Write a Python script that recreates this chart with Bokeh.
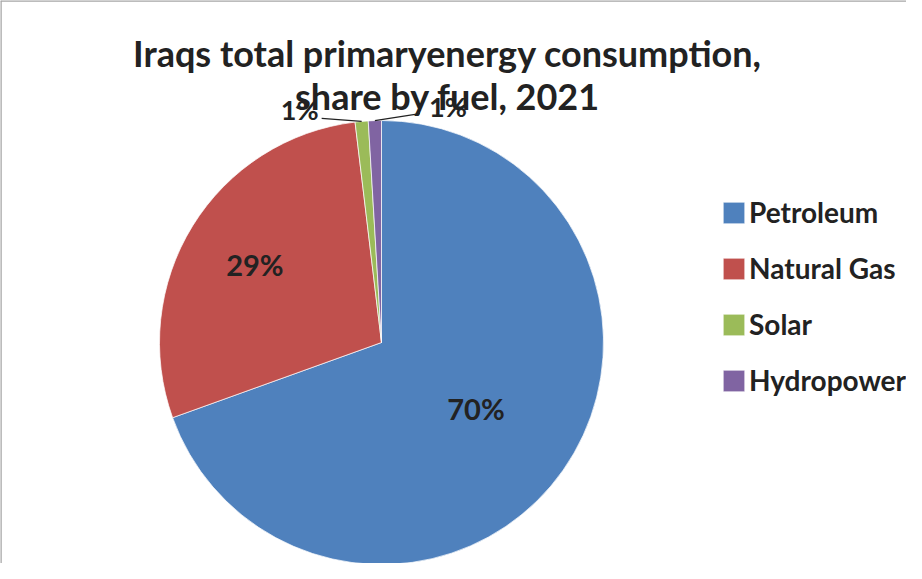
import math
from bokeh.plotting import figure
from bokeh.models import ColumnDataSource, Span, Legend, LegendItem, Range1d
from bokeh.core.properties import value
from bokeh.embed import file_html
from bokeh.resources import INLINE

# ---- data ----
fuels = ["Petroleum", "Natural Gas", "Solar", "Hydropower"]
shares = [69.5, 28.6, 0.95, 0.95]
colors = ["#4F81BD", "#C0504D", "#9BBB59", "#8064A2"]
title_lines = ["Iraqs total primaryenergy consumption,", "share by fuel, 2021"]

# ---- layout (pixels, figure is 906 x 563, 1 data unit = 1 px) ----
W, H = 906, 563
CX, CY, R = 381, 221, 222
FONT = "Lato"
TXT = "#222222"

p = figure(width=W, height=H, output_backend="svg", toolbar_location=None,
           x_range=Range1d(0, W), y_range=Range1d(0, H), min_border=0,
           tools="")
p.axis.visible = False
p.grid.visible = False
p.outline_line_color = None
p.background_fill_color = "white"

# border (left and top only visible in reference)
p.add_layout(Span(location=0, dimension="height", line_color="#A6A6A6", line_width=2.5))
p.add_layout(Span(location=H, dimension="width", line_color="#A6A6A6", line_width=2.5))

# wedge angles: clockwise from 12 o'clock
total = sum(shares)
starts, ends, mids = [], [], []
acc = 0.0
for s in shares:
    a0 = acc / total * 2 * math.pi
    acc += s
    a1 = acc / total * 2 * math.pi
    starts.append(math.pi / 2 - a0)
    ends.append(math.pi / 2 - a1)
    mids.append((a0 + a1) / 2)

src = ColumnDataSource(dict(x=[CX] * len(fuels), y=[CY] * len(fuels),
                            start=starts, end=ends, color=colors, fuel=fuels))
wr = p.wedge(x="x", y="y", radius=R, start_angle="start", end_angle="end",
             direction="clock", fill_color="color", line_color="white",
             line_width=1, line_alpha=0.7, source=src)

labels = [f"{round(s / total * 100)}%" for s in shares]

# inside labels for large slices
inner_frac = [0.52, 0.67]
lx, ly, lt = [], [], []
for i in range(2):
    lx.append(CX + inner_frac[i] * R * math.sin(mids[i]))
    ly.append(CY + inner_frac[i] * R * math.cos(mids[i]))
    lt.append(labels[i])
p.text(x=lx, y=ly, text=lt, text_font=value(FONT), text_font_style="bold",
       text_font_size="29px", text_color=TXT, text_align="center",
       text_baseline="middle")

# outside labels for small slices with leader lines
leader_off = {2: (-40, 3), 3: (45, 7)}
label_off = {2: (-62, 12), 3: (73, 14)}
ox, oy, ot, segs = [], [], [], []
for i in (2, 3):
    ex = CX + R * math.sin(mids[i])
    ey = CY + R * math.cos(mids[i])
    segs.append((ex, ey, ex + leader_off[i][0], ey + leader_off[i][1]))
    ox.append(ex + label_off[i][0])
    oy.append(ey + label_off[i][1])
    ot.append(labels[i])
p.segment(x0=[s[0] for s in segs], y0=[s[1] for s in segs],
          x1=[s[2] for s in segs], y1=[s[3] for s in segs],
          line_color="#222222", line_width=1.2)
p.text(x=ox, y=oy, text=ot, text_font=value(FONT), text_font_style="bold",
       text_font_size="27px", text_color=TXT, text_align="center",
       text_baseline="middle")

# title
p.text(x=[447, 447], y=[511, 468], text=title_lines, text_font=value(FONT),
       text_font_style="bold", text_font_size="36px", text_color=TXT,
       text_align="center", text_baseline="alphabetic")

# legend
items = [LegendItem(label=f, renderers=[wr], index=i) for i, f in enumerate(fuels)]
legend = Legend(items=items, location=(720, 166), orientation="vertical",
                glyph_width=27, glyph_height=27, label_standoff=2,
                spacing=22, padding=0, margin=0,
                label_text_font=FONT, label_text_font_style="bold",
                label_text_font_size="28px", label_text_color=TXT,
                border_line_color=None, background_fill_alpha=0)
p.add_layout(legend, "center")

open("out.html", "w").write(file_html(p, INLINE))
